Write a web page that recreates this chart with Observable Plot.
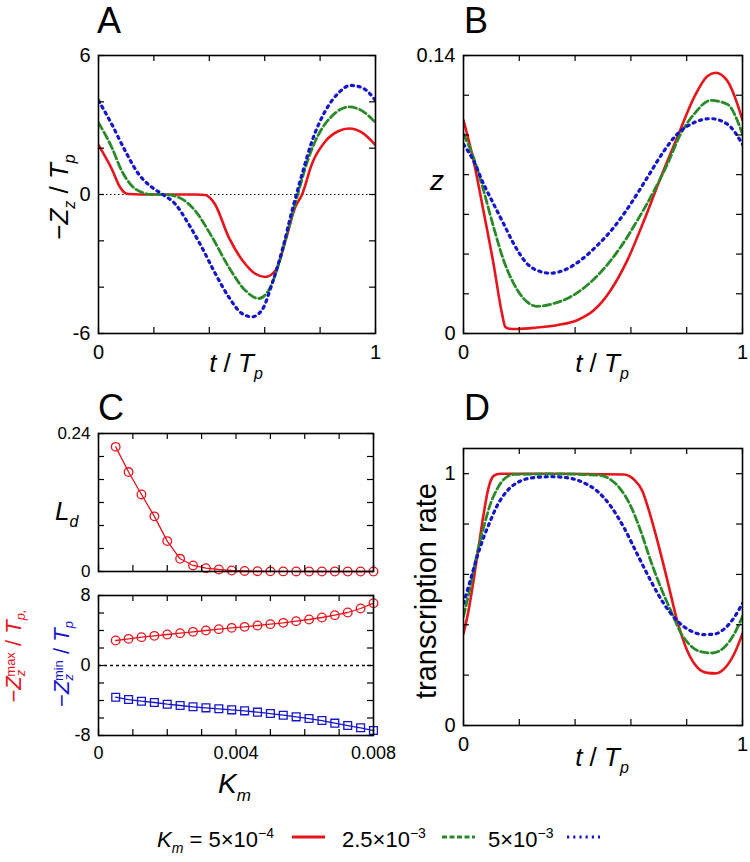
<!DOCTYPE html>
<html><head><meta charset="utf-8">
<script src="https://cdn.jsdelivr.net/npm/d3@7"></script>
<script src="https://cdn.jsdelivr.net/npm/@observablehq/plot@0.6"></script>
<style>
body{margin:0;background:#fff}
#fig{position:relative;width:750px;height:862px;overflow:hidden;font-family:"Liberation Sans",Arial,sans-serif;background:#fff}
#fig svg{position:absolute}
</style></head><body><div id="fig"></div>
<script>
// ---------- DATA ----------
// Panel A: -Zz/Tp vs t/Tp  ([t, value])
const A_km5e4 = [[0,2.13],[0.048,1.10],[0.078,0.31],[0.09,0.12],[0.108,0.02],[0.15,0],[0.25,0],[0.35,0],[0.386,-0.02],[0.40,-0.12],[0.42,-0.41],[0.47,-1.84],[0.52,-2.85],[0.566,-3.42],[0.602,-3.56],[0.639,-3.28],[0.675,-1.99],[0.71,-0.55],[0.735,0],[0.77,1.31],[0.82,2.31],[0.867,2.74],[0.904,2.85],[0.952,2.67],[1,2.13]];
const A_km25e4 = [[0,3.10],[0.048,2.03],[0.084,1.02],[0.12,0.38],[0.157,0.09],[0.193,0],[0.241,0],[0.289,-0.12],[0.349,-0.70],[0.41,-1.84],[0.47,-3.13],[0.53,-4.14],[0.578,-4.49],[0.614,-4.14],[0.651,-2.99],[0.687,-1.41],[0.723,0.17],[0.759,1.6],[0.795,2.60],[0.843,3.39],[0.904,3.78],[0.952,3.61],[1,3.10]];
const A_km5e3 = [[0,4.06],[0.048,3.03],[0.096,1.89],[0.145,0.88],[0.193,0.31],[0.229,0.02],[0.277,-0.41],[0.325,-1.27],[0.373,-2.28],[0.422,-3.42],[0.47,-4.42],[0.518,-5.14],[0.554,-5.28],[0.59,-4.99],[0.627,-3.84],[0.663,-2.41],[0.699,-0.69],[0.735,0.88],[0.771,2.31],[0.819,3.61],[0.867,4.39],[0.91,4.71],[0.952,4.61],[1,4.06]];
// Panel B: z vs t/Tp
const B_km5e4 = [[0,0.1074],[0.036,0.0870],[0.072,0.0614],[0.108,0.0348],[0.138,0.0100],[0.15,0.0033],[0.165,0.0024],[0.192,0.0023],[0.263,0.003],[0.335,0.0042],[0.407,0.0067],[0.467,0.0117],[0.527,0.0217],[0.587,0.0368],[0.647,0.0569],[0.707,0.0786],[0.766,0.0987],[0.826,0.1188],[0.874,0.1296],[0.904,0.1313],[0.946,0.1271],[0.982,0.1154],[1,0.1074]];
const B_km25e4 = [[0,0.1004],[0.036,0.0886],[0.072,0.0719],[0.108,0.0535],[0.144,0.0368],[0.18,0.0251],[0.228,0.0159],[0.263,0.0137],[0.323,0.0151],[0.383,0.0184],[0.443,0.0243],[0.503,0.0326],[0.563,0.0435],[0.623,0.0569],[0.683,0.0719],[0.731,0.0853],[0.778,0.1004],[0.826,0.1104],[0.886,0.1174],[0.946,0.1154],[1,0.1004]];
const B_km5e3 = [[0,0.0953],[0.036,0.0870],[0.072,0.0753],[0.108,0.0652],[0.144,0.0552],[0.18,0.0452],[0.228,0.0351],[0.263,0.0318],[0.311,0.0304],[0.359,0.0318],[0.419,0.0368],[0.479,0.0443],[0.539,0.0535],[0.599,0.0652],[0.659,0.0786],[0.719,0.0920],[0.766,0.1004],[0.826,0.1062],[0.886,0.1082],[0.946,0.1054],[1,0.0953]];
// Panel D: transcription rate vs t/Tp
const D_km5e4 = [[0,0.365],[0.018,0.456],[0.036,0.575],[0.054,0.707],[0.072,0.839],[0.09,0.945],[0.108,0.991],[0.132,1.0],[0.3,1.0],[0.575,0.997],[0.611,0.977],[0.641,0.931],[0.665,0.852],[0.695,0.733],[0.731,0.575],[0.766,0.416],[0.802,0.297],[0.838,0.231],[0.874,0.209],[0.904,0.207],[0.934,0.225],[0.97,0.284],[1,0.365]];
const D_km25e4 = [[0,0.433],[0.024,0.548],[0.048,0.68],[0.072,0.786],[0.096,0.878],[0.12,0.938],[0.144,0.977],[0.18,0.997],[0.347,0.999],[0.491,0.993],[0.527,0.977],[0.563,0.938],[0.599,0.872],[0.635,0.773],[0.671,0.654],[0.707,0.548],[0.743,0.456],[0.778,0.37],[0.814,0.317],[0.85,0.293],[0.892,0.288],[0.934,0.31],[0.97,0.363],[1,0.433]];
const D_km5e3 = [[0,0.485],[0.024,0.575],[0.048,0.667],[0.072,0.746],[0.096,0.812],[0.12,0.872],[0.156,0.931],[0.204,0.971],[0.251,0.984],[0.311,0.988],[0.371,0.984],[0.431,0.964],[0.479,0.931],[0.527,0.872],[0.575,0.786],[0.623,0.68],[0.671,0.575],[0.719,0.482],[0.766,0.416],[0.814,0.376],[0.862,0.361],[0.898,0.363],[0.934,0.383],[0.97,0.429],[1,0.485]];
// Panel C
const Km = [0.0005,0.000875,0.00125,0.001625,0.002,0.002375,0.00275,0.003125,0.0035,0.003875,0.00425,0.004625,0.005,0.005375,0.00575,0.006125,0.0065,0.006875,0.00725,0.007625,0.008];
const Ld = [0.2168,0.173,0.134,0.0959,0.0529,0.0221,0.0105,0.0058,0.0035,0.0017,0.001,0.0005,0.0003,0.0002,0.0001,0,0,0,0,0,0];
const Zmax = [2.857,3.048,3.238,3.390,3.543,3.695,3.848,4.0,4.152,4.305,4.419,4.571,4.724,4.876,5.067,5.257,5.486,5.752,6.057,6.514,7.124];
const Zmin = [-3.62,-3.89,-4.08,-4.23,-4.42,-4.57,-4.72,-4.84,-4.95,-5.07,-5.18,-5.33,-5.49,-5.68,-5.87,-6.06,-6.29,-6.59,-6.86,-7.12,-7.43];
// ticks
const tTicks = [0,0.2,0.4,0.6,0.8,1];
const tLabels = [0,1];
const aTicks = [-6,-4,-2,0,2,4,6];
const aLabels = [-6,0,6];
const bTicks = [0,0.02,0.04,0.06,0.08,0.1,0.12,0.14];
const bLabels = [0,0.14];
const kmTicks = [0,0.001,0.002,0.003,0.004,0.005,0.006,0.007,0.008];
const kmLabels = [0,0.004,0.008];
const ldTicks = [0,0.04,0.08,0.12,0.16,0.2,0.24];
const ldLabels = [0,0.24];
const zTicks = [-8,-6,-4,-2,0,2,4,6,8];
const zLabels = [-8,0,8];
const dTicks = [0,0.2,0.4,0.6,0.8,1];
const dLabels = [0,1];

// ---------- STYLE ----------
const RED = "#e8141c", GREEN = "#2a8a2a", BLUE = "#1515cc";
const FONT = "Liberation Sans, Arial, Helvetica, sans-serif";
const fig = document.getElementById("fig");
const M = 50;
const fmt = d => String(d);

function series(data, kind) {
  const base = {x: d => d[0], y: d => d[1], curve: "monotone-x", clip: true};
  if (kind === 0) return Plot.line(data, {...base, stroke: RED, strokeWidth: 2.6});
  if (kind === 1) return Plot.line(data, {...base, stroke: GREEN, strokeWidth: 2.8, strokeDasharray: "7.5,3.5"});
  return Plot.line(data, {...base, stroke: BLUE, strokeWidth: 3.2, strokeDasharray: "2.2,4.6"});
}
function frameTicks(xt, yt, fw, fh) {
  const L = 6, sw = 1.2;
  return [
    Plot.tickX(xt, {x: d => d, insetTop: fh - L, strokeWidth: sw}),
    Plot.tickX(xt, {x: d => d, insetBottom: fh - L, strokeWidth: sw}),
    Plot.tickY(yt, {y: d => d, insetRight: fw - L, strokeWidth: sw}),
    Plot.tickY(yt, {y: d => d, insetLeft: fw - L, strokeWidth: sw}),
    Plot.frame({strokeWidth: 1.6})
  ];
}
function panel({fx, fy, fw, fh, xdom, ydom, xt, yt, xl, yl, marks, xfs = 20, yfs = 20}) {
  const m = [...marks, ...frameTicks(xt, yt, fw, fh)];
  if (xl) m.push(Plot.axisX({ticks: xl, tickSize: 0, tickPadding: 11, fontSize: xfs, tickFormat: fmt, label: null}));
  if (yl) m.push(Plot.axisY({ticks: yl, tickSize: 0, tickPadding: 8, fontSize: yfs, tickFormat: fmt, label: null}));
  const p = Plot.plot({
    width: fw + 2 * M, height: fh + 2 * M, margin: M,
    x: {domain: xdom, axis: xl ? undefined : null},
    y: {domain: ydom, axis: yl ? undefined : null},
    style: {background: "transparent", overflow: "visible", fontFamily: FONT, color: "black"},
    marks: m
  });
  p.style.position = "absolute";
  p.style.left = (fx - M) + "px";
  p.style.top = (fy - M) + "px";
  fig.append(p);
}

// Panel A
panel({fx: 98, fy: 55, fw: 277, fh: 278, xdom: [0, 1], ydom: [-6, 6], xt: tTicks, yt: aTicks, xl: tLabels, yl: aLabels,
  marks: [Plot.ruleY([0], {strokeDasharray: "1.5,2.5", strokeWidth: 1.2}), series(A_km5e4, 0), series(A_km25e4, 1), series(A_km5e3, 2)]});
// Panel B
panel({fx: 463, fy: 55, fw: 279, fh: 278, xdom: [0, 1], ydom: [0, 0.14], xt: tTicks, yt: bTicks, xl: tLabels, yl: bLabels,
  marks: [series(B_km5e4, 0), series(B_km25e4, 1), series(B_km5e3, 2)]});
// Panel C upper
const ldData = Km.map((k, i) => ({k, v: Ld[i]}));
panel({fx: 98, fy: 433, fw: 275, fh: 138, xdom: [0, 0.008], ydom: [0, 0.24], xt: kmTicks, yt: ldTicks, xl: null, yl: ldLabels, yfs: 17,
  marks: [Plot.line(ldData, {x: "k", y: "v", stroke: RED, strokeWidth: 1.3}),
          Plot.dot(ldData, {x: "k", y: "v", r: 4.3, stroke: RED, strokeWidth: 1.3, fill: "none"})]});
// Panel C lower
const zmaxData = Km.map((k, i) => ({k, v: Zmax[i]}));
const zminData = Km.map((k, i) => ({k, v: Zmin[i]}));
panel({fx: 98, fy: 595, fw: 275, fh: 140, xdom: [0, 0.008], ydom: [-8, 8], xt: kmTicks, yt: zTicks, xl: kmLabels, yl: zLabels, xfs: 18, yfs: 18,
  marks: [Plot.ruleY([0], {strokeDasharray: "3,3", strokeWidth: 1.4}),
          Plot.line(zmaxData, {x: "k", y: "v", stroke: RED, strokeWidth: 1.3}),
          Plot.dot(zmaxData, {x: "k", y: "v", r: 4.3, stroke: RED, strokeWidth: 1.3, fill: "none"}),
          Plot.line(zminData, {x: "k", y: "v", stroke: BLUE, strokeWidth: 1.3}),
          Plot.dot(zminData, {x: "k", y: "v", r: 4.4, symbol: "square", stroke: BLUE, strokeWidth: 1.3, fill: "none"})]});
// Panel D
panel({fx: 463, fy: 448, fw: 279, fh: 277, xdom: [0, 1], ydom: [0, 1.1], xt: tTicks, yt: dTicks, xl: tLabels, yl: dLabels,
  marks: [series(D_km5e4, 0), series(D_km25e4, 1), series(D_km5e3, 2)]});

// ---------- TEXT OVERLAY ----------
const ov = d3.select(fig).append("svg").attr("width", 750).attr("height", 862)
  .style("left", "0px").style("top", "0px").style("font-family", FONT).style("pointer-events", "none");
function txt(x, y, parts, {size = 26, anchor = "start", rotate = false, fill = "black"} = {}) {
  const t = ov.append("text").attr("x", x).attr("y", y).attr("font-size", size).attr("text-anchor", anchor).attr("fill", fill);
  if (rotate) t.attr("transform", `rotate(-90,${x},${y})`);
  for (const p of parts) {
    const s = t.append("tspan").text(p.t);
    if (p.i) s.attr("font-style", "italic");
    if (p.dy) s.attr("dy", p.dy);
    if (p.dx) s.attr("dx", p.dx);
    if (p.s) s.attr("font-size", p.s);
  }
  return t;
}
// panel letters
txt(97, 33, [{t: "A"}], {size: 36});
txt(464, 33, [{t: "B"}], {size: 36});
txt(98, 420, [{t: "C"}], {size: 36});
txt(464, 420, [{t: "D"}], {size: 36});
// axis titles
const tOverTp = [{t: "t", i: 1}, {t: " / "}, {t: "T", i: 1}, {t: "p", i: 1, s: 16, dy: 7}];
txt(236, 372, tOverTp, {anchor: "middle"});
txt(602, 372, tOverTp, {anchor: "middle"});
txt(602, 766, tOverTp, {anchor: "middle"});
txt(68, 197, [{t: "−"}, {t: "Z", i: 1}, {t: "z", i: 1, s: 16, dy: 7}, {t: " / ", dy: -7}, {t: "T", i: 1}, {t: "p", i: 1, s: 16, dy: 7}], {rotate: true, anchor: "middle"});
txt(430, 190, [{t: "z", i: 1}], {size: 28});
txt(55, 520, [{t: "L", i: 1}, {t: "d", i: 1, s: 16, dy: 7}], {size: 26});
txt(21, 656, [{t: "−"}, {t: "Z", i: 1}, {t: "z", i: 1, s: 13, dy: 4}, {t: "max", s: 13, dx: -7, dy: -10}, {t: " / ", dy: 6}, {t: "T", i: 1}, {t: "p,", i: 1, s: 13, dy: 4}], {size: 22, rotate: true, anchor: "middle", fill: RED});
txt(69, 664, [{t: "−"}, {t: "Z", i: 1}, {t: "z", i: 1, s: 13, dy: 4}, {t: "min", s: 13, dx: -7, dy: -10}, {t: " / ", dy: 6}, {t: "T", i: 1}, {t: "p", i: 1, s: 13, dy: 4}], {size: 22, rotate: true, anchor: "middle", fill: BLUE});
txt(218, 793, [{t: "K", i: 1}, {t: "m", i: 1, s: 17, dy: 8}], {size: 28});
txt(436, 591, [{t: "transcription rate"}], {size: 29, rotate: true, anchor: "middle"});
// legend
txt(157, 847, [{t: "K", i: 1}, {t: "m", i: 1, s: 14, dy: 6}, {t: " = 5×10", dy: -6}, {t: "−4", s: 14, dy: -9}], {size: 22});
txt(342, 847, [{t: "2.5×10"}, {t: "−3", s: 14, dy: -9}], {size: 22});
txt(488, 847, [{t: "5×10"}, {t: "−3", s: 14, dy: -9}], {size: 22});
ov.append("line").attr("x1", 292).attr("x2", 325).attr("y1", 837).attr("y2", 837).attr("stroke", RED).attr("stroke-width", 3);
ov.append("line").attr("x1", 442).attr("x2", 475).attr("y1", 837).attr("y2", 837).attr("stroke", GREEN).attr("stroke-width", 3).attr("stroke-dasharray", "5,2.5");
ov.append("line").attr("x1", 567).attr("x2", 600).attr("y1", 837).attr("y2", 837).attr("stroke", BLUE).attr("stroke-width", 3).attr("stroke-dasharray", "2.2,4");
</script></body></html>
